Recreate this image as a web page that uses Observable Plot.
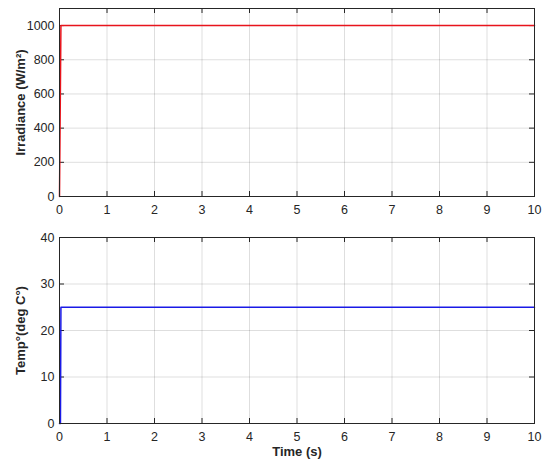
<!DOCTYPE html>
<html>
<head>
<meta charset="utf-8">
<script src="https://cdn.jsdelivr.net/npm/d3@7"></script>
<script src="https://cdn.jsdelivr.net/npm/@observablehq/plot@0.6"></script>
<style>
  body { margin: 0; background: #fff; }
  #chart svg { display: block; }
</style>
</head>
<body>
<div id="chart"></div>
<script>
// Data
const irrTime = [0, 0.03, 10];
const irrValue = [0, 1000, 1000];
const tempTime = [0, 0.02, 0.03, 10];
const tempValue = [0, 0, 25, 25];
const xTicks = [0, 1, 2, 3, 4, 5, 6, 7, 8, 9, 10];
const irrTicks = [0, 200, 400, 600, 800, 1000];
const tempTicks = [0, 10, 20, 30, 40];

const irrData = irrTime.map((t, i) => ({t, v: irrValue[i]}));
const tempData = tempTime.map((t, i) => ({t, v: tempValue[i]}));

const axisColor = "#262626";
const font = "Liberation Sans, Arial, sans-serif";

function panel({data, yDomain, yTicks, color, yLabel, xLabel, height, marginTop, marginBottom}) {
  const ph = height - marginTop - marginBottom;
  const pw = 550 - 59 - 16;
  const marks = [
    Plot.gridX(xTicks, {stroke: "#000", strokeOpacity: 0.13}),
    Plot.gridY(yTicks, {stroke: "#000", strokeOpacity: 0.13}),
    Plot.tickX(xTicks, {x: d => d, insetTop: ph - 5, stroke: axisColor}),
    Plot.tickX(xTicks, {x: d => d, insetBottom: ph - 5, stroke: axisColor}),
    Plot.tickY(yTicks, {y: d => d, insetRight: pw - 5, stroke: axisColor}),
    Plot.tickY(yTicks, {y: d => d, insetLeft: pw - 5, stroke: axisColor}),
    Plot.axisX(xTicks, {tickSize: 0, tickPadding: 9, label: null, fontSize: 12.5, fill: axisColor, tickFormat: d => String(d)}),
    Plot.axisY(yTicks, {tickSize: 0, tickPadding: 5, label: null, fontSize: 12.5, fill: axisColor, tickFormat: d => String(d)}),
    Plot.line(data, {x: "t", y: "v", stroke: color, strokeWidth: 1.5}),
    Plot.frame({stroke: axisColor, strokeWidth: 1}),
    Plot.text([yLabel], {text: d => d, frameAnchor: "left", textAnchor: "middle", rotate: -90, dx: -39, fontWeight: "bold", fontSize: 13, fill: axisColor})
  ];
  if (xLabel) {
    marks.push(Plot.text([xLabel], {text: d => d, frameAnchor: "bottom", textAnchor: "middle", dy: 32, fontWeight: "bold", fontSize: 13, fill: axisColor}));
  }
  return Plot.plot({
    width: 550,
    height,
    marginLeft: 59,
    marginRight: 16,
    marginTop,
    marginBottom,
    style: {fontFamily: font, fontSize: "12.5px", background: "#fff", color: axisColor},
    x: {domain: [0, 10]},
    y: {domain: yDomain},
    marks
  });
}

const chart = document.getElementById("chart");
chart.appendChild(panel({
  data: irrData, yDomain: [0, 1100], yTicks: irrTicks, color: "#e8141c",
  yLabel: "Irradiance (W/m²)", xLabel: null,
  height: 220, marginTop: 8, marginBottom: 24
}));
chart.appendChild(panel({
  data: tempData, yDomain: [0, 40], yTicks: tempTicks, color: "#1a1ae6",
  yLabel: "Temp°(deg C°)", xLabel: "Time (s)",
  height: 245, marginTop: 17, marginBottom: 42
}));
</script>
</body>
</html>
